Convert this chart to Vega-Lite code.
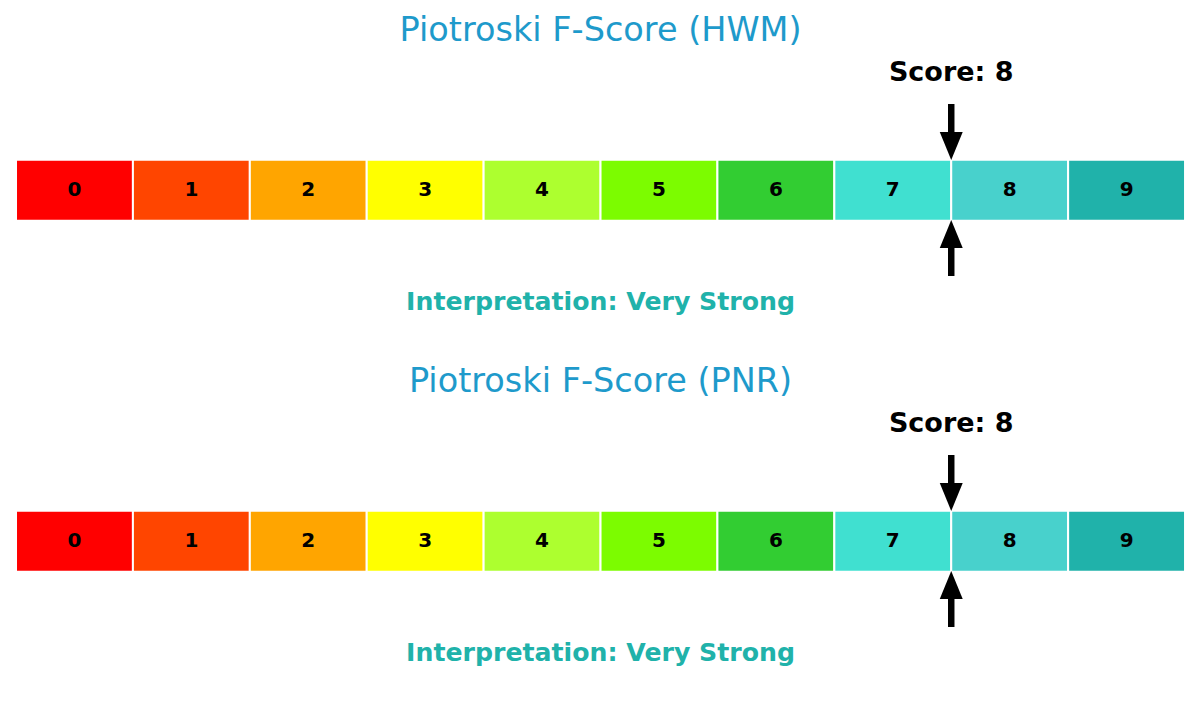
{
  "$schema": "https://vega.github.io/schema/vega-lite/v6.json",
  "padding": 0,
  "background": "white",
  "spacing": 0,
  "datasets": {
    "segments": [
      {"score": 0, "start": 0, "end": 1, "mid": 0.5},
      {"score": 1, "start": 1, "end": 2, "mid": 1.5},
      {"score": 2, "start": 2, "end": 3, "mid": 2.5},
      {"score": 3, "start": 3, "end": 4, "mid": 3.5},
      {"score": 4, "start": 4, "end": 5, "mid": 4.5},
      {"score": 5, "start": 5, "end": 6, "mid": 5.5},
      {"score": 6, "start": 6, "end": 7, "mid": 6.5},
      {"score": 7, "start": 7, "end": 8, "mid": 7.5},
      {"score": 8, "start": 8, "end": 9, "mid": 8.5},
      {"score": 9, "start": 9, "end": 10, "mid": 9.5}
    ],
    "hwm": [
      {"ticker": "HWM", "title": "Piotroski F-Score (HWM)", "score": 8, "scoreText": "Score: 8", "interpretation": "Interpretation: Very Strong"}
    ],
    "pnr": [
      {"ticker": "PNR", "title": "Piotroski F-Score (PNR)", "score": 8, "scoreText": "Score: 8", "interpretation": "Interpretation: Very Strong"}
    ]
  },
  "vconcat": [
    {
      "width": 1200,
      "height": 351,
      "layer": [
        {
          "data": {"name": "segments"},
          "mark": {"type": "rect", "stroke": "white", "strokeWidth": 2},
          "encoding": {
            "x": {"field": "start", "type": "quantitative", "scale": {"domain": [-0.137, 10.128], "nice": false, "zero": false}, "axis": null},
            "x2": {"field": "end"},
            "y": {"datum": 54.5, "type": "quantitative", "scale": {"domain": [0, 100], "nice": false, "zero": false}, "axis": null},
            "y2": {"datum": 37.1},
            "color": {"field": "score", "type": "ordinal", "legend": null,
              "scale": {"domain": [0, 1, 2, 3, 4, 5, 6, 7, 8, 9],
                "range": ["#FF0000", "#FF4500", "#FFA500", "#FFFF00", "#ADFF2F", "#7CFC00", "#32CD32", "#40E0D0", "#48D1CC", "#20B2AA"]}}
          }
        },
        {
          "data": {"name": "segments"},
          "mark": {"type": "text", "font": "DejaVu Sans", "fontWeight": "bold", "fontSize": 20, "color": "black", "baseline": "middle"},
          "encoding": {
            "x": {"field": "mid", "type": "quantitative"},
            "y": {"datum": 45.87},
            "text": {"field": "score"}
          }
        },
        {
          "data": {"name": "hwm"},
          "layer": [
            {
              "mark": {"type": "text", "font": "DejaVu Sans", "fontSize": 33.5, "color": "#1E9ACB", "baseline": "middle"},
              "encoding": {"x": {"datum": 5}, "y": {"datum": 91.17}, "text": {"field": "title"}}
            },
            {
              "mark": {"type": "text", "font": "DejaVu Sans", "fontWeight": "bold", "fontSize": 27, "color": "black", "baseline": "middle"},
              "encoding": {"x": {"field": "score", "type": "quantitative"}, "y": {"datum": 79.2}, "text": {"field": "scoreText"}}
            },
            {
              "mark": {"type": "rule", "color": "black", "strokeWidth": 6.5},
              "encoding": {"x": {"field": "score", "type": "quantitative"}, "y": {"datum": 70.37}, "y2": {"datum": 61.8}}
            },
            {
              "mark": {"type": "point", "shape": "M-0.82,-1L0.82,-1L0,1Z", "filled": true, "color": "black", "opacity": 1, "size": 784},
              "encoding": {"x": {"field": "score", "type": "quantitative"}, "y": {"datum": 58.4}}
            },
            {
              "mark": {"type": "rule", "color": "black", "strokeWidth": 6.5},
              "encoding": {"x": {"field": "score", "type": "quantitative"}, "y": {"datum": 30.5}, "y2": {"datum": 21.37}}
            },
            {
              "mark": {"type": "point", "shape": "M-0.82,1L0.82,1L0,-1Z", "filled": true, "color": "black", "opacity": 1, "size": 784},
              "encoding": {"x": {"field": "score", "type": "quantitative"}, "y": {"datum": 33.33}}
            },
            {
              "mark": {"type": "text", "font": "DejaVu Sans", "fontWeight": "bold", "fontSize": 25.2, "color": "#20B2AA", "baseline": "middle"},
              "encoding": {"x": {"datum": 5}, "y": {"datum": 13.96}, "text": {"field": "interpretation"}}
            }
          ]
        }
      ]
    },
    {
      "width": 1200,
      "height": 351,
      "layer": [
        {
          "data": {"name": "segments"},
          "mark": {"type": "rect", "stroke": "white", "strokeWidth": 2},
          "encoding": {
            "x": {"field": "start", "type": "quantitative", "scale": {"domain": [-0.137, 10.128], "nice": false, "zero": false}, "axis": null},
            "x2": {"field": "end"},
            "y": {"datum": 54.5, "type": "quantitative", "scale": {"domain": [0, 100], "nice": false, "zero": false}, "axis": null},
            "y2": {"datum": 37.1},
            "color": {"field": "score", "type": "ordinal", "legend": null,
              "scale": {"domain": [0, 1, 2, 3, 4, 5, 6, 7, 8, 9],
                "range": ["#FF0000", "#FF4500", "#FFA500", "#FFFF00", "#ADFF2F", "#7CFC00", "#32CD32", "#40E0D0", "#48D1CC", "#20B2AA"]}}
          }
        },
        {
          "data": {"name": "segments"},
          "mark": {"type": "text", "font": "DejaVu Sans", "fontWeight": "bold", "fontSize": 20, "color": "black", "baseline": "middle"},
          "encoding": {
            "x": {"field": "mid", "type": "quantitative"},
            "y": {"datum": 45.87},
            "text": {"field": "score"}
          }
        },
        {
          "data": {"name": "pnr"},
          "layer": [
            {
              "mark": {"type": "text", "font": "DejaVu Sans", "fontSize": 33.5, "color": "#1E9ACB", "baseline": "middle"},
              "encoding": {"x": {"datum": 5}, "y": {"datum": 91.17}, "text": {"field": "title"}}
            },
            {
              "mark": {"type": "text", "font": "DejaVu Sans", "fontWeight": "bold", "fontSize": 27, "color": "black", "baseline": "middle"},
              "encoding": {"x": {"field": "score", "type": "quantitative"}, "y": {"datum": 79.2}, "text": {"field": "scoreText"}}
            },
            {
              "mark": {"type": "rule", "color": "black", "strokeWidth": 6.5},
              "encoding": {"x": {"field": "score", "type": "quantitative"}, "y": {"datum": 70.37}, "y2": {"datum": 61.8}}
            },
            {
              "mark": {"type": "point", "shape": "M-0.82,-1L0.82,-1L0,1Z", "filled": true, "color": "black", "opacity": 1, "size": 784},
              "encoding": {"x": {"field": "score", "type": "quantitative"}, "y": {"datum": 58.4}}
            },
            {
              "mark": {"type": "rule", "color": "black", "strokeWidth": 6.5},
              "encoding": {"x": {"field": "score", "type": "quantitative"}, "y": {"datum": 30.5}, "y2": {"datum": 21.37}}
            },
            {
              "mark": {"type": "point", "shape": "M-0.82,1L0.82,1L0,-1Z", "filled": true, "color": "black", "opacity": 1, "size": 784},
              "encoding": {"x": {"field": "score", "type": "quantitative"}, "y": {"datum": 33.33}}
            },
            {
              "mark": {"type": "text", "font": "DejaVu Sans", "fontWeight": "bold", "fontSize": 25.2, "color": "#20B2AA", "baseline": "middle"},
              "encoding": {"x": {"datum": 5}, "y": {"datum": 13.96}, "text": {"field": "interpretation"}}
            }
          ]
        }
      ]
    }
  ],
  "config": {"view": {"stroke": null}}
}
